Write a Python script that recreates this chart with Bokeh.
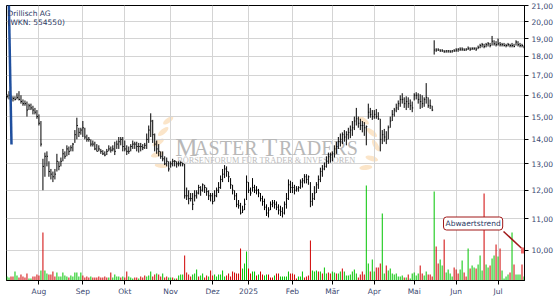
import math
from bokeh.plotting import figure
from bokeh.models import (Range1d, LinearScale, FixedTicker, CustomJSTickFormatter,
                          Label, ColumnDataSource)
from bokeh.embed import file_html
from bokeh.resources import INLINE

# ---------------- data ----------------
TITLE = "Drillisch AG"
SUBTITLE = "(WKN: 554550)"

# trading sessions per month, Jul 2024 (partial) .. Jul 2025 (partial)
month_sessions = [16, 22, 21, 23, 21, 18, 22, 20, 21, 20, 21, 21, 14]
month_labels = ["Aug", "Sep", "Okt", "Nov", "Dez", "2025", "Feb", "Mär",
                "Apr", "Mai", "Jun", "Jul"]
price_ticks = [10, 11, 12, 13, 14, 15, 16, 17, 18, 19, 20, 21]

high = [
    # Jul 2024
    16.05, 16.2, 16.0, 15.95, 15.95, 16.1, 16.2, 16.0, 15.8, 15.75, 15.7, 15.6, 15.6, 15.5, 15.4, 15.3,
    # Aug
    15.1, 14.8, 13.2, 13.45, 13.5, 13.1, 12.8, 12.7, 12.8, 13.4, 13.1, 13.25, 13.6, 13.5, 13.75, 13.7,
    13.75, 13.85, 14.4, 14.95, 14.5, 14.5,
    # Sep
    14.8, 14.5, 14.2, 14.1, 14.0, 13.95, 13.9, 13.8, 13.75, 13.6, 13.55, 13.5, 13.6, 13.75, 13.7, 13.75,
    13.9, 13.95, 14.1, 14.1, 14.1,
    # Okt
    13.95, 13.75, 13.7, 13.8, 13.95, 13.9, 13.9, 13.85, 13.85, 13.8, 13.85, 14.25, 14.6, 15.15, 14.85,
    14.25, 13.95, 13.8, 13.5, 13.5, 13.3, 13.25, 13.1,
    # Nov
    13.1, 13.2, 13.15, 13.1, 13.1, 13.1, 13.05, 13.0, 12.1, 12.0, 11.9, 11.9, 12.0, 12.0, 12.2, 12.15,
    12.25, 12.2, 12.1, 12.0, 11.9,
    # Dez
    11.9, 12.0, 12.1, 12.3, 12.55, 12.8, 12.95, 12.9, 12.7, 12.45, 12.2, 12.0, 11.9, 11.65, 11.55, 11.45,
    11.7, 12.55,
    # Jan 2025
    12.3, 12.1, 12.45, 12.2, 12.15, 12.05, 11.9, 11.8, 11.7, 11.5, 11.4, 11.6, 11.65, 11.65, 11.6, 11.5,
    11.45, 11.4, 11.6, 11.9, 12.4, 12.35,
    # Feb
    12.3, 12.2, 12.15, 12.15, 12.4, 12.45, 12.6, 12.6, 12.55, 12.3, 11.9, 12.15, 12.3, 12.55, 12.85, 12.95,
    13.05, 13.3, 13.45, 13.45,
    # Mär
    13.5, 13.75, 13.9, 14.1, 14.25, 14.3, 14.4, 14.35, 14.5, 14.6, 14.8, 15.0, 15.4, 15.0, 14.9, 14.8,
    14.75, 14.6, 15.6, 15.4, 15.3,
    # Apr
    15.3, 15.35, 15.2, 14.9, 14.4, 14.45, 14.35, 14.6, 15.0, 15.3, 15.4, 15.6, 15.75, 16.0, 16.1, 15.9,
    15.95, 15.9, 15.8, 15.7,
    # Mai
    16.1, 16.15, 16.1, 16.05, 16.0, 15.9, 16.6, 15.9, 15.8, 15.5, 18.9, 18.45, 18.45, 18.4, 18.4, 18.35,
    18.35, 18.35, 18.35, 18.35, 18.4,
    # Jun
    18.45, 18.45, 18.5, 18.5, 18.45, 18.45, 18.55, 18.5, 18.5, 18.5, 18.5, 18.6, 18.7, 18.75, 18.7, 18.75,
    18.8, 18.75, 19.15, 18.9, 18.85,
    # Jul
    19.0, 18.8, 18.75, 18.75, 18.7, 18.75, 18.7, 18.75, 18.7, 18.9, 18.85, 18.75, 18.7, 18.6,
]

low = [
    # Jul 2024
    15.85, 15.8, 15.75, 15.7, 15.75, 15.8, 15.75, 15.6, 15.5, 15.5, 15.0, 15.3, 15.3, 15.1, 15.1, 14.9,
    # Aug
    14.6, 13.7, 12.0, 12.5, 12.9, 12.5, 12.4, 12.3, 12.4, 12.7, 12.75, 12.9, 13.1, 13.2, 13.3, 13.35,
    13.5, 13.5, 13.85, 14.0, 14.1, 14.2,
    # Sep
    14.1, 14.0, 13.9, 13.9, 13.7, 13.7, 13.55, 13.5, 13.5, 13.4, 13.35, 13.3, 13.35, 13.5, 13.45, 13.5,
    13.35, 13.6, 13.6, 13.75, 13.5,
    # Okt
    13.5, 13.35, 13.4, 13.5, 13.6, 13.6, 13.5, 13.45, 13.5, 13.55, 13.6, 13.6, 13.85, 14.1, 13.85,
    13.5, 13.4, 13.3, 13.2, 13.1, 12.95, 12.9, 12.7,
    # Nov
    12.85, 12.9, 12.9, 12.85, 12.9, 12.9, 12.9, 11.7, 11.65, 11.5, 11.6, 11.3, 11.6, 11.7, 11.85, 11.8,
    11.95, 11.9, 11.8, 11.65, 11.6,
    # Dez
    11.5, 11.6, 11.75, 11.9, 12.05, 12.3, 12.45, 12.5, 12.3, 12.05, 11.85, 11.65, 11.4, 11.35, 11.15, 11.2,
    11.3, 11.65,
    # Jan 2025
    11.9, 11.8, 11.95, 11.9, 11.85, 11.75, 11.6, 11.45, 11.3, 11.1, 11.05, 11.3, 11.4, 11.35, 11.3, 11.15,
    11.1, 11.05, 11.15, 11.35, 11.65, 11.9,
    # Feb
    11.9, 11.85, 11.95, 11.95, 12.05, 12.1, 12.25, 12.25, 12.2, 11.4, 11.45, 11.65, 11.9, 12.05, 12.3, 12.5,
    12.75, 12.85, 13.0, 13.05,
    # Mär
    13.1, 13.25, 13.4, 13.6, 13.7, 13.8, 13.9, 13.75, 14.0, 14.05, 14.15, 14.4, 14.6, 14.5, 14.4, 14.3,
    14.15, 13.75, 14.9, 14.95, 14.85,
    # Apr
    14.9, 14.9, 14.85, 13.5, 13.8, 13.9, 13.8, 14.0, 14.5, 14.8, 15.0, 15.2, 15.3, 15.45, 15.6, 15.4,
    15.3, 15.4, 15.3, 15.2,
    # Mai
    15.75, 15.8, 15.6, 15.35, 15.4, 15.45, 15.6, 15.4, 15.35, 15.25, 18.1, 18.25, 18.3, 18.25, 18.25, 18.2,
    18.2, 18.2, 18.2, 18.2, 18.25,
    # Jun
    18.25, 18.25, 18.3, 18.3, 18.3, 18.3, 18.35, 18.3, 18.35, 18.35, 18.3, 18.4, 18.45, 18.5, 18.45, 18.5,
    18.55, 18.5, 18.6, 18.6, 18.55,
    # Jul
    18.6, 18.55, 18.55, 18.55, 18.5, 18.55, 18.5, 18.5, 18.5, 18.6, 18.55, 18.5, 18.5, 18.45,
]

close = [
    # Jul 2024
    15.95, 16.0, 15.8, 15.85, 15.8, 15.9, 15.8, 15.7, 15.6, 15.6, 15.3, 15.5, 15.4, 15.3, 15.2, 15.0,
    # Aug
    14.7, 13.8, 12.9, 13.3, 13.3, 12.7, 12.6, 12.5, 12.6, 13.1, 12.9, 13.1, 13.4, 13.3, 13.6, 13.5,
    13.65, 13.8, 14.2, 14.6, 14.3, 14.4,
    # Sep
    14.5, 14.1, 14.0, 14.0, 13.8, 13.8, 13.6, 13.5, 13.6, 13.5, 13.4, 13.35, 13.5, 13.6, 13.55, 13.6,
    13.5, 13.8, 13.9, 14.0, 13.7,
    # Okt
    13.6, 13.5, 13.5, 13.7, 13.8, 13.8, 13.7, 13.7, 13.7, 13.65, 13.75, 14.0, 14.4, 14.8, 14.2, 13.8,
    13.6, 13.5, 13.3, 13.2, 13.0, 13.1, 12.8,
    # Nov
    13.0, 13.1, 13.1, 13.0, 13.0, 13.05, 13.0, 11.8, 11.8, 11.7, 11.7, 11.5, 11.8, 11.9, 12.1, 12.0,
    12.2, 12.1, 11.95, 11.8, 11.8,
    # Dez
    11.6, 11.8, 12.0, 12.1, 12.4, 12.6, 12.8, 12.7, 12.5, 12.2, 12.0, 11.8, 11.5, 11.45, 11.2, 11.3,
    11.5, 12.3,
    # Jan 2025
    12.0, 11.9, 12.1, 12.0, 12.0, 11.9, 11.7, 11.6, 11.4, 11.2, 11.3, 11.5, 11.55, 11.5, 11.4, 11.3,
    11.25, 11.2, 11.5, 11.7, 12.2, 12.1,
    # Feb
    12.1, 12.0, 12.05, 12.1, 12.3, 12.35, 12.5, 12.4, 12.5, 11.6, 11.7, 11.9, 12.2, 12.4, 12.7, 12.8,
    12.9, 13.1, 13.3, 13.35,
    # Mär
    13.4, 13.6, 13.7, 13.9, 14.0, 14.2, 14.1, 14.2, 14.3, 14.4, 14.5, 14.8, 14.9, 14.7, 14.6, 14.6,
    14.5, 14.55, 15.2, 15.1, 15.0,
    # Apr
    15.1, 15.0, 14.9, 14.0, 14.2, 14.1, 14.0, 14.5, 14.8, 15.1, 15.3, 15.4, 15.6, 15.8, 15.8, 15.6,
    15.7, 15.6, 15.5, 15.4,
    # Mai
    16.0, 16.0, 15.8, 15.7, 15.6, 15.8, 15.9, 15.5, 15.5, 15.3, 18.35, 18.35, 18.35, 18.3, 18.3, 18.25,
    18.3, 18.3, 18.25, 18.3, 18.3,
    # Jun
    18.35, 18.4, 18.4, 18.4, 18.35, 18.4, 18.45, 18.4, 18.45, 18.45, 18.4, 18.5, 18.6, 18.65, 18.55,
    18.65, 18.7, 18.6, 18.85, 18.7, 18.65,
    # Jul
    18.7, 18.65, 18.65, 18.6, 18.6, 18.65, 18.6, 18.6, 18.55, 18.8, 18.65, 18.6, 18.6, 18.5,
]

# volume in thousand shares
volume = [
    # Jul 2024
    40, 30, 40, 40, 90, 50, 30, 60, 40, 30, 70, 20, 20, 40, 40, 60,
    # Aug
    50, 100, 480, 100, 70, 60, 60, 90, 40, 80, 40, 40, 80, 50, 40, 30, 50, 40, 80, 80, 40, 80,
    # Sep
    50, 30, 40, 30, 40, 30, 30, 30, 40, 30, 30, 40, 30, 30, 80, 30, 60, 40, 40, 30, 40,
    # Okt
    30, 90, 40, 30, 20, 30, 30, 20, 40, 30, 50, 40, 50, 90, 40, 60, 70, 60, 40, 70, 30, 40, 30,
    # Nov
    30, 30, 20, 20, 50, 60, 60, 250, 80, 60, 40, 60, 70, 110, 40, 50, 70, 30, 50, 40, 100,
    # Dez
    50, 60, 40, 60, 60, 100, 40, 50, 70, 40, 90, 80, 70, 70, 320, 120, 170, 290,
    # Jan 2025
    120, 70, 90, 90, 50, 60, 90, 60, 50, 60, 60, 30, 30, 50, 70, 70, 40, 40, 40, 40, 90, 70,
    # Feb
    70, 60, 20, 40, 40, 90, 30, 40, 50, 400, 100, 90, 100, 90, 90, 70, 130, 70, 80, 70,
    # Mär
    90, 80, 70, 70, 90, 120, 90, 50, 50, 60, 90, 110, 70, 30, 60, 90, 60, 950, 170, 90, 210,
    # Apr
    90, 130, 130, 170, 670, 70, 150, 100, 120, 70, 60, 70, 40, 40, 50, 30, 30, 60, 20, 70,
    # Mai
    80, 50, 70, 150, 70, 50, 90, 60, 60, 40, 890, 340, 170, 210, 150, 410, 80, 110, 70, 40, 130,
    # Jun
    110, 70, 110, 200, 80, 40, 320, 120, 150, 130, 120, 160, 250, 100, 870, 160, 130, 150, 220, 250, 360,
    # Jul
    240, 320, 100, 20, 40, 60, 80, 480, 160, 60, 60, 60, 160, 40,
]

# volume bar colour read per session: g = up (green), r = down (red)
vol_dir = "".join([
    "ggrrggrrrrrggrrr",            # Jul 2024
    "rgrggrrrrggggggrgggggg",      # Aug
    "rrrrgrrrrrrrrgrggggrg",       # Sep
    "rrgggrrgrrrgggrrgrrgrrg",     # Okt
    "grgrgggrrrrgggrggrrgr",       # Nov
    "rggggggrrrrrrrrggg",          # Dez
    "rrggrgrrggrrrgrrgggggr",      # Jan 2025
    "rrrgggrrrrgggrgrggrr",        # Feb
    "ggrggrgggggggrrrrggrg",       # Mär
    "grrrggrggggggggrgrgg",        # Apr
    "gggrrggrrrgrrggrggggr",       # Mai
    "rrggrrgrggrgggrggrggr",       # Jun
    "grggggrgrgggrg",              # Jul
])

ALERT_TEXT = "Abwaertstrend"
ALERT_PRICE = 10.0

N = len(close)
assert len(high) == N and len(low) == N and len(volume) == N and len(vol_dir) == N, \
    (len(high), len(low), len(close), len(volume), len(vol_dir))
assert sum(month_sessions) == N

# ---------------- layout ----------------
X0, X1 = -0.25, N - 0.75
Y0, Y1 = 9.13, 21.0
VOL_TOP = 2750
PX_L, PX_T, PX_W, PX_H = 6, 5, 519, 275

def px_x(px):
    return X0 + (px - PX_L) * (X1 - X0) / PX_W

def px_y(py):
    lo, hi = math.log10(Y0), math.log10(Y1)
    return 10 ** (hi - (py - PX_T) * (hi - lo) / PX_H)

month_starts = []
acc = 0
for n in month_sessions[:-1]:
    acc += n
    month_starts.append(acc)

xs = list(range(N))
src = ColumnDataSource(dict(
    x=xs, x1=[i + 0.5 for i in xs], high=high, low=low, close=close, vol=volume,
    color=["#00c400" if d == "g" else "#d00000" for d in vol_dir],
))

p = figure(width=555, height=300, output_backend="svg", toolbar_location=None,
           x_range=Range1d(X0, X1), y_range=Range1d(Y0, Y1), y_axis_type="log",
           y_axis_location="right", min_border_left=PX_L, min_border_right=30,
           min_border_top=PX_T, min_border_bottom=20)
p.background_fill_color = "white"
p.border_fill_color = "white"
p.outline_line_color = "black"
p.outline_line_width = 1

AXIS_COLOR = "#3a4870"
p.xaxis.ticker = FixedTicker(ticks=month_starts)
p.xaxis.major_label_overrides = {t: lab for t, lab in zip(month_starts, month_labels)}
p.yaxis.ticker = FixedTicker(ticks=price_ticks)
p.yaxis.formatter = CustomJSTickFormatter(code="return tick.toFixed(2).replace('.', ',');")
for ax in (p.xaxis, p.yaxis):
    ax.axis_line_color = "black"
    ax.major_tick_line_color = "black"
    ax.major_tick_in = 0
    ax.major_tick_out = 4
    ax.minor_tick_line_color = None
    ax.major_label_text_font = "DejaVu Sans"
    ax.major_label_text_font_size = "7.5px"
    ax.major_label_text_color = AXIS_COLOR
p.xaxis.major_label_standoff = 2
p.yaxis.major_label_standoff = 3

p.xgrid.grid_line_color = "#d4d4d4"
p.ygrid.grid_line_color = "#d4d4d4"
p.xgrid.grid_line_width = 1
p.ygrid.grid_line_width = 1

# watermark
WM = "#b8b8b8"
r = p.ellipse(
    x=[px_x(v) for v in (168, 163, 158, 157, 161, 364, 372, 376, 372, 366)],
    y=[px_y(v) for v in (120, 131, 142, 154, 165, 120, 132, 145, 158, 167)],
    width=[12, 13, 13, 13, 13, 12, 13, 13, 13, 13],
    height=[5, 5, 5, 5, 5, 5, 5, 5, 5, 5],
    angle=[math.radians(a) for a in (35, 40, 30, 15, -5, 145, 140, 120, 165, 185)],
    width_units="screen", height_units="screen",
    fill_color="#f7cf9c", fill_alpha=0.55, line_color=None)
r.level = "underlay"
for txt, px, size in (("M", 175, "25px"), ("ASTER", 194, "20px"),
                      ("T", 262, "25px"), ("RADERS", 279, "20px")):
    p.add_layout(Label(x=px_x(px), y=px_y(147), text=txt, text_font="Liberation Serif",
                       text_font_size=size, text_color=WM, text_baseline="alphabetic",
                       level="underlay"))
p.add_layout(Label(x=px_x(177), y=px_y(159.5), text="BÖRSENFORUM FÜR TRADER & INVESTOREN",
                   text_font="Liberation Serif", text_font_size="8.3px", text_color="#bcbcbc",
                   text_baseline="alphabetic", level="underlay"))

# volume
p.extra_y_ranges = {"vol": Range1d(0, VOL_TOP)}
p.extra_y_scales = {"vol": LinearScale()}
p.vbar(x="x", top="vol", bottom=0, width=0.5, fill_color="color", line_color=None,
       y_range_name="vol", source=src)

# price bars (high-low + close tick)
p.segment(x0="x", y0="low", x1="x", y1="high", line_color="black", line_width=1, source=src)
p.segment(x0="x", y0="close", x1="x1", y1="close", line_color="black", line_width=1, source=src)

# drawn trend line (blue)
p.line(x=[px_x(8.3), px_x(11.0)], y=[px_y(0), px_y(144)], line_color="#1f4f9e", line_width=2.5)

# alert annotation
p.line(x=[px_x(504), N - 1], y=[px_y(231), ALERT_PRICE], line_color="#a01818", line_width=1.5)
p.scatter(x=[N - 1], y=[ALERT_PRICE], marker="square", size=6, fill_color="#f06a6a",
          line_color=None)
p.add_layout(Label(x=px_x(473.5), y=px_y(223), text=ALERT_TEXT, text_align="center",
                   text_baseline="middle", text_font="DejaVu Sans", text_font_size="7.5px",
                   text_color="#2b3864", background_fill_color="white",
                   border_line_color="#a01818", border_line_width=1,
                   padding=2, border_radius=3))

# title
TXT = "#2b3864"
p.add_layout(Label(x=px_x(7), y=px_y(12.5), text=TITLE, text_baseline="middle",
                   text_font="DejaVu Sans", text_font_size="7.5px", text_color=TXT))
p.add_layout(Label(x=px_x(7), y=px_y(22), text=SUBTITLE, text_baseline="middle",
                   text_font="DejaVu Sans", text_font_size="7.5px", text_color=TXT))

open("out.html", "w").write(file_html(p, INLINE))
